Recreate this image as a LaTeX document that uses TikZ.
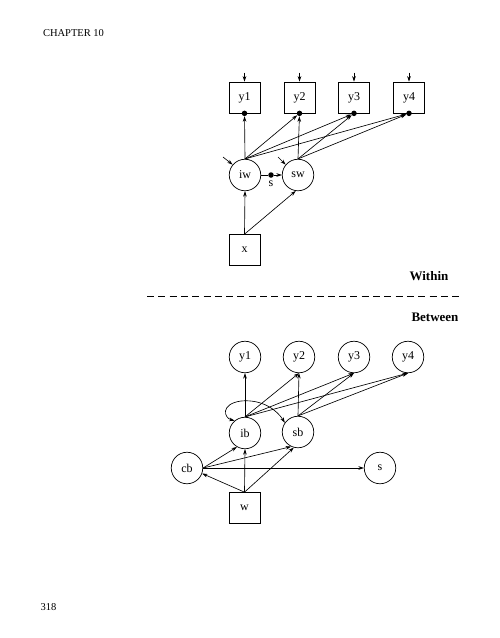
\documentclass[tikz,border=0pt]{standalone}
\usepackage{fontspec}
\setmainfont{Liberation Serif}
\usetikzlibrary{arrows.meta,calc}
\begin{document}
\begin{tikzpicture}[x=1pt,y=-1pt,
 every node/.style={font=\fontsize{12}{14}\selectfont},
 obs/.style={draw,minimum width=31pt,minimum height=31pt,inner sep=0pt,line width=0.7pt},
 lat/.style={draw,circle,minimum size=31.5pt,inner sep=0pt,line width=0.7pt},
 arr/.style={-{Stealth[length=5.5pt,width=3.6pt]},line width=0.65pt},
 darr/.style={{Stealth[length=5.5pt,width=3.6pt]}-{Stealth[length=5.5pt,width=3.6pt]},line width=0.65pt},
 ln/.style={line width=0.65pt},
 dotn/.style={circle,fill,inner sep=0pt,minimum size=5.5pt},
 hdr/.style={font=\fontsize{10.5}{12}\selectfont},
 lvl/.style={font=\fontsize{13}{15}\selectfont\bfseries}]
\useasboundingbox (0,0) rectangle (500,638);

\node[hdr] (chap) at (73.5,33) {CHAPTER 10};
\node[hdr] (page) at (48.5,607) {318};

% ---------- Within ----------
\node[obs] (wy1) at (244.5,97.5) {y1};
\node[obs] (wy2) at (299.5,97.5) {y2};
\node[obs] (wy3) at (354,97.5) {y3};
\node[obs] (wy4) at (409,97.5) {y4};
\foreach \i in {1,2,3,4}{
  \node[dotn] (d\i) at (wy\i.south) {};
  \coordinate (r\i) at ($(wy\i.north)+(0,-9)$);
  \draw[arr] (r\i) -- (wy\i.north);
}

\node[lat] (iw) at (245,175) {iw};
\node[lat] (sw) at (298,175) {sw};
\node[dotn] (sd) at (271,175) {};
\node (sl) at (271,184) {s};
\draw[ln] (iw) -- (sd);
\draw[arr] (sd) -- (sw);

\coordinate (riw) at (223,157);
\coordinate (rsw) at (278,157);
\draw[arr] (riw) -- (iw.140);
\draw[arr] (rsw) -- (sw.140);

\foreach \i in {1,2,3,4}{ \draw[arr] (iw.north) -- (d\i); }
\foreach \i in {2,3,4}{ \draw[arr] (sw.north) -- (d\i); }

\node[obs] (x) at (244.5,250) {x};
\draw[arr] (x.north) -- (iw.south);
\draw[arr] (x.north) -- (sw.262);

\node[lvl] (within) at (429,276) {Within};
\coordinate (dl) at (147,296);
\coordinate (dr) at (463,296);
\draw[line width=0.7pt,dash pattern=on 7pt off 4.3pt] (dl) -- (dr);
\node[lvl] (between) at (435,317) {Between};

% ---------- Between ----------
\node[lat] (by1) at (245,357) {y1};
\node[lat] (by2) at (299,357) {y2};
\node[lat] (by3) at (354,357) {y3};
\node[lat] (by4) at (408,357) {y4};

\node[lat] (ib) at (245,433) {ib};
\node[lat] (sb) at (298,432) {sb};
\node[lat] (cb) at (187,468) {cb};
\node[lat] (s) at (380,468) {s};
\node[obs] (w) at (244.5,508) {w};

\foreach \i in {1,2,3,4}{ \draw[arr] (ib.north) -- (by\i.south); }
\foreach \i in {2,3,4}{ \draw[arr] (sb.north) -- (by\i.south); }

\draw[darr] (ib.130) .. controls (224,418) and (220,404) .. (241,401)
            .. controls (262,399) and (277,410) .. (sb.145);

\draw[arr] (cb.east) -- (ib.240);
\draw[arr] (cb.east) -- (sb.245);
\draw[arr] (cb.east) -- (s.west);
\draw[arr] (w.north) -- (cb.-20);
\draw[arr] (w.north) -- (ib.south);
\draw[arr] (w.north) -- (sb.255);
\end{tikzpicture}
\end{document}
